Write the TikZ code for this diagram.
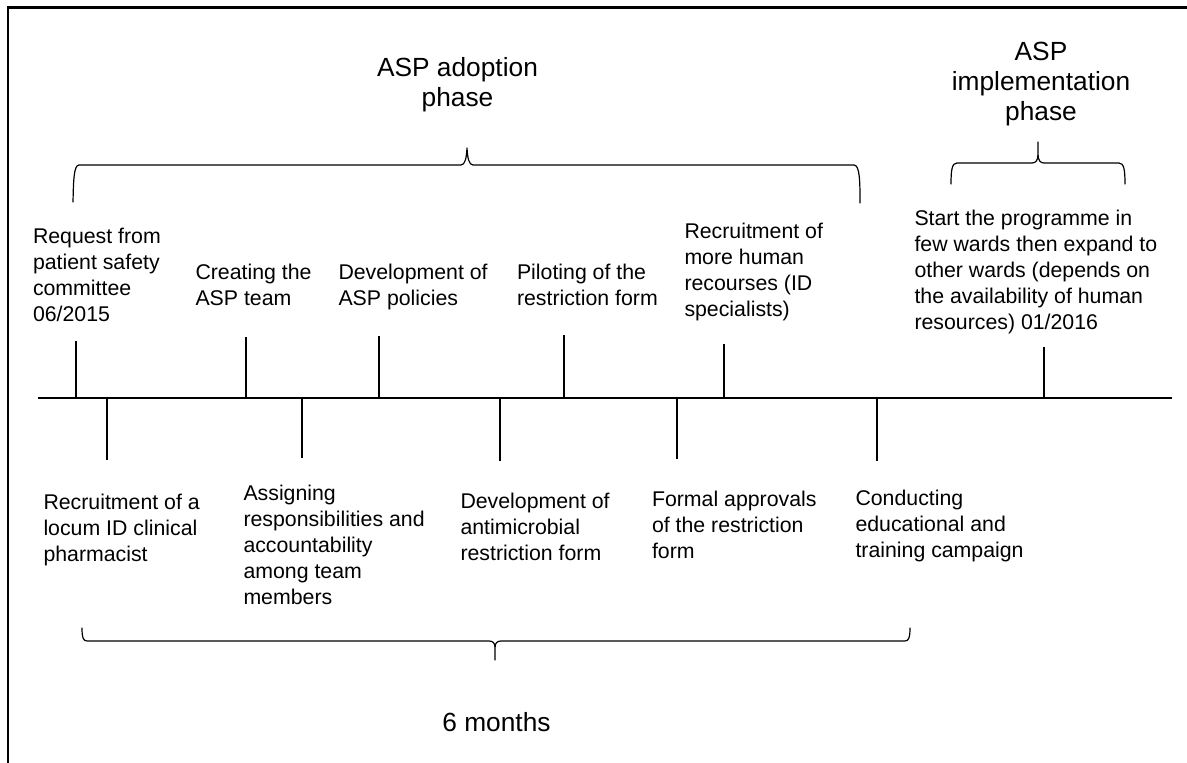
\documentclass[tikz,border=0pt]{standalone}
\usepackage{fontspec}
\setmainfont{Liberation Sans}
% top-aligned text blocks: the box baseline is the baseline of the first line
\newcommand\eventtext[1]{\parbox[t]{330pt}{\raggedright\fontsize{21.3}{26.2}\selectfont #1}}
\newcommand\phasetext[1]{\parbox[t]{330pt}{\centering\fontsize{26.3}{30}\selectfont #1}}
\begin{document}
\begin{tikzpicture}[x=1pt,y=-1pt,
  event/.style={anchor=base west,inner sep=0pt,outer sep=0pt},
  phase/.style={anchor=base,inner sep=0pt,outer sep=0pt},
  axis/.style={line width=1.3pt},
  tickline/.style={line width=1.3pt},
  bracket/.style={line width=1.2pt,line join=round,line cap=round},
  frameline/.style={line width=2.5pt}]
\useasboundingbox (0,0) rectangle (1187,763);

% outer frame (left and top edges)
\coordinate (fbl) at (8,763);
\coordinate (ftl) at (8,7.5);
\coordinate (ftr) at (1187,7.5);
\draw[frameline] (fbl) -- (ftl) -- (ftr);

% phase headings
\node[phase] (adopt) at (457.5,76) {\phasetext{ASP adoption\\phase}};
\node[phase] (impl) at (1041,60) {\phasetext{ASP\\implementation\\phase}};
\node[phase] (months) at (496.5,731) {\fontsize{26.3}{30}\selectfont 6 months};

% braces
\draw[bracket] (73,202) .. controls (73.5,183) and (73.5,165) .. (79,165)
  -- (461,165) .. controls (465,165) and (466.5,158) .. (467,148)
  .. controls (467.5,158) and (469,165) .. (473,165)
  -- (854,165) .. controls (860,165) and (860,183) .. (860,203);
\draw[bracket] (951,184) .. controls (951,170) and (952,163) .. (957,163)
  -- (1032,163) .. controls (1036,163) and (1038,160) .. (1038,154)
  -- (1038,142) -- (1038,154)
  .. controls (1038,160) and (1040,163) .. (1044,163)
  -- (1119,163) .. controls (1124,163) and (1125,170) .. (1125,184);
\draw[bracket] (82,628) .. controls (82,637) and (83,641) .. (87,641)
  -- (489,641) .. controls (493,641) and (495,643) .. (495,648)
  -- (495,660) -- (495,648)
  .. controls (495,643) and (497,641) .. (501,641)
  -- (905,641) .. controls (909,641) and (910,637) .. (910,628);

% events above the timeline
\node[event] (req)   at (33,243)    {\eventtext{Request from\\patient safety\\committee\\06/2015}};
\node[event] (team)  at (195.5,279) {\eventtext{Creating the\\ASP team}};
\node[event] (pol)   at (338.5,279) {\eventtext{Development of\\ASP policies}};
\node[event] (pilot) at (517,279)   {\eventtext{Piloting of the\\restriction form}};
\node[event] (hr)    at (684.5,238) {\eventtext{Recruitment of\\more human\\recourses (ID\\specialists)}};
\node[event] (start) at (914.5,225) {\eventtext{Start the programme in\\few wards then expand to\\other wards (depends on\\the availability of human\\resources) 01/2016}};

% events below the timeline
\node[event] (locum)  at (43.5,509) {\eventtext{Recruitment of a\\locum ID clinical\\pharmacist}};
\node[event] (assign) at (243.5,500) {\eventtext{Assigning\\responsibilities and\\accountability\\among team\\members}};
\node[event] (form)   at (460.5,508) {\eventtext{Development of\\antimicrobial\\restriction form}};
\node[event] (appr)   at (652,506)   {\eventtext{Formal approvals\\of the restriction\\form}};
\node[event] (edu)    at (855.5,505) {\eventtext{Conducting\\educational and\\training campaign}};

% timeline
\coordinate (tl) at (38,398);
\coordinate (tr) at (1172,398);
\draw[axis] (tl) -- (tr);

% ticks up
\coordinate (u1) at (76,398);    \coordinate (u1e) at (76,341);
\coordinate (u2) at (246,398);   \coordinate (u2e) at (246,337);
\coordinate (u3) at (379,398);   \coordinate (u3e) at (379,336);
\coordinate (u4) at (564,398);   \coordinate (u4e) at (564,335);
\coordinate (u5) at (724,398);   \coordinate (u5e) at (724,344);
\coordinate (u6) at (1044,398);  \coordinate (u6e) at (1044,347);
\foreach \t in {u1,u2,u3,u4,u5,u6} \draw[tickline] (\t) -- (\t e);

% ticks down
\coordinate (d1) at (107,398); \coordinate (d1e) at (107,460);
\coordinate (d2) at (302,398); \coordinate (d2e) at (302,458);
\coordinate (d3) at (500,398); \coordinate (d3e) at (500,461);
\coordinate (d4) at (677,398); \coordinate (d4e) at (677,459);
\coordinate (d5) at (877,398); \coordinate (d5e) at (877,461);
\foreach \t in {d1,d2,d3,d4,d5} \draw[tickline] (\t) -- (\t e);
\end{tikzpicture}
\end{document}
